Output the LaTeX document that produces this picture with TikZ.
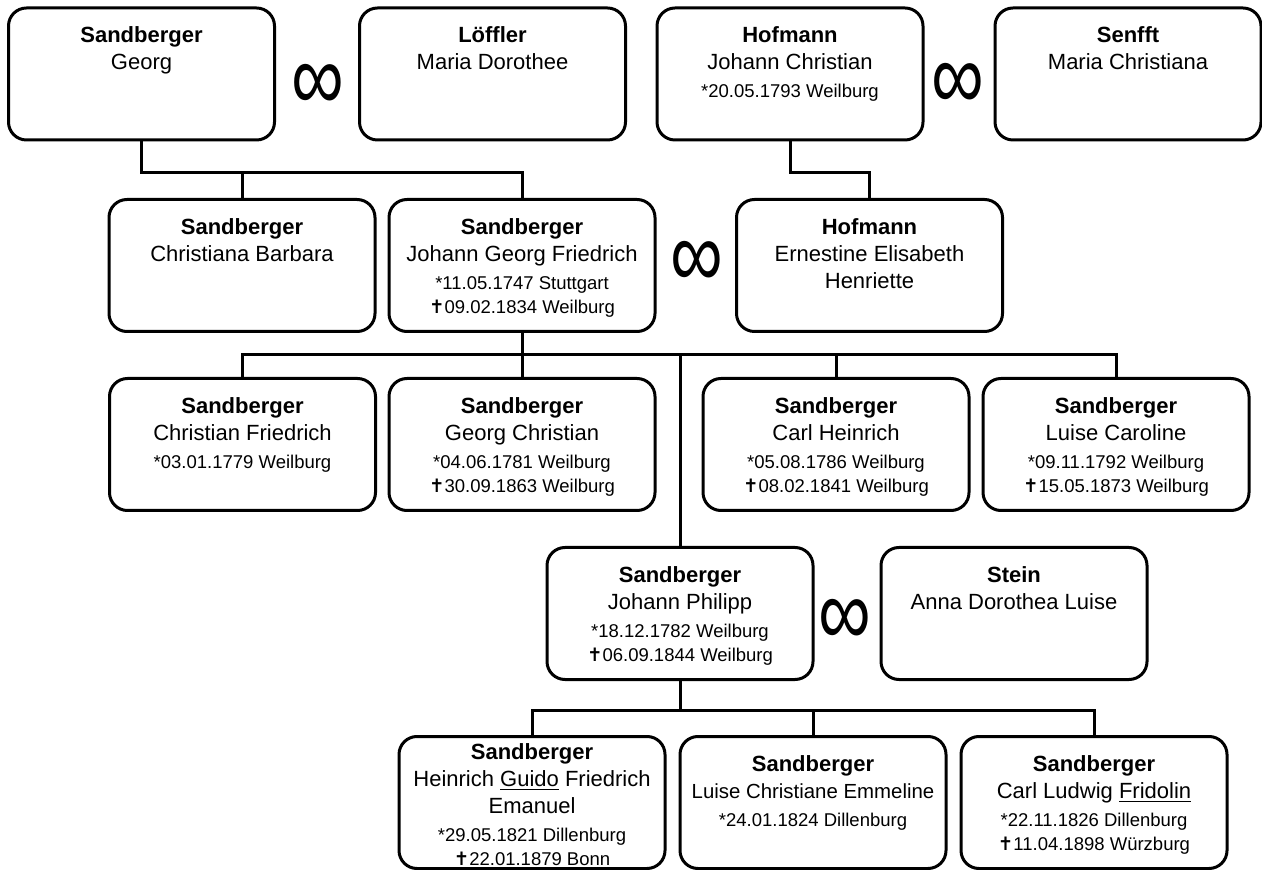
\documentclass[tikz,border=0pt]{standalone}
\usepackage{fontspec}
\setmainfont{Liberation Sans}
\newfontfamily\crossfont{DejaVu Sans}
\usetikzlibrary{calc}

\newcommand{\pers}[3][5.5pt]{\parbox[c][62pt][t]{130pt}{\centering\vspace*{#1}\rule{0pt}{10pt}\textbf{#2}\par #3}}
\newcommand{\born}[1]{\par\vspace{2pt}\fontsize{9.25}{12}\selectfont *#1}
\newcommand{\died}[1]{\par{\crossfont ✝}#1}
\newcommand{\wedsym}{\scalebox{1}[1.3]{∞}}

\tikzset{
  person/.style={draw,line width=1.5pt,rounded corners=9pt,inner sep=0pt,
    minimum width=133pt,minimum height=66pt,font=\fontsize{11}{13.5}\selectfont},
  wed/.style={inner sep=0pt,font=\fontsize{37}{37}\selectfont},
  link/.style={line width=1.5pt}
}

\begin{document}
\begin{tikzpicture}[x=0.5pt,y=-0.5pt]
    \useasboundingbox (0,0) rectangle (1262,870);
    %% grandparents
    \node[person] (georg) at (141.5,74) {\pers{Sandberger}{Georg}};
    \node[person] (loeffler) at (492.5,74) {\pers{Löffler}{Maria Dorothee}};
    \node[person] (hofjc) at (790,74) {\pers{Hofmann}{Johann Christian\born{20.05.1793 Weilburg}}};
    \node[person] (senfft) at (1128,74) {\pers{Senfft}{Maria Christiana}};
    \node[wed] (w1) at (318,87) {\wedsym};
    \node[wed] (w2) at (958,86) {\wedsym};
    %% parents
    \node[person] (christiana) at (242,265.5) {\pers{Sandberger}{Christiana Barbara}};
    \node[person] (jgf) at (522,265.5) {\pers{Sandberger}{Johann Georg Friedrich\born{11.05.1747 Stuttgart}\died{09.02.1834 Weilburg}}};
    \node[person] (ernestine) at (869.5,265.5) {\pers{Hofmann}{Ernestine Elisabeth\par Henriette}};
    \node[wed] (w3) at (697,264) {\wedsym};
    %% children
    \node[person] (cfried) at (242.5,444.5) {\pers{Sandberger}{Christian Friedrich\born{03.01.1779 Weilburg}}};
    \node[person] (gchrist) at (522,444.5) {\pers{Sandberger}{Georg Christian\born{04.06.1781 Weilburg}\died{30.09.1863 Weilburg}}};
    \node[person] (cheinr) at (836,444.5) {\pers{Sandberger}{Carl Heinrich\born{05.08.1786 Weilburg}\died{08.02.1841 Weilburg}}};
    \node[person] (lcaro) at (1116,444.5) {\pers{Sandberger}{Luise Caroline\born{09.11.1792 Weilburg}\died{15.05.1873 Weilburg}}};
    \node[person] (jphil) at (680,613.5) {\pers{Sandberger}{Johann Philipp\born{18.12.1782 Weilburg}\died{06.09.1844 Weilburg}}};
    \node[person] (stein) at (1014,613.5) {\pers{Stein}{Anna Dorothea Luise}};
    \node[wed] (w4) at (845,622) {\wedsym};
    %% grandchildren
    \node[person] (guido) at (532,802.5) {\pers[-0.5pt]{Sandberger}{Heinrich \underline{Guido} Friedrich\par Emanuel\born{29.05.1821 Dillenburg}\died{22.01.1879 Bonn}}};
    \node[person] (lchrist) at (813,802.5) {\pers{Sandberger}{{\fontsize{10.2}{13.5}\selectfont Luise Christiane Emmeline}\born{24.01.1824 Dillenburg}}};
    \node[person] (cludw) at (1094,802.5) {\pers{Sandberger}{Carl Ludwig \underline{Fridolin}\born{22.11.1826 Dillenburg}\died{11.04.1898 Würzburg}}};
    %% lines
    \draw[link] (georg.south) -- ++(0,31) coordinate (g1) -| (jgf.north);
    \draw[link] (christiana.north) -- (christiana.north |- g1);
    \draw[link] (hofjc.south) -- ++(0,31) -| (ernestine.north);
    \draw[link] (jgf.south) -- (gchrist.north);
    \draw[link] (jgf.south) ++(0,22) coordinate (j1);
    \draw[link] (cfried.north) |- (j1) -| (lcaro.north);
    \foreach \k in {cheinr,jphil} {
        \draw[link] (\k.north) -- (\k.north |- j1);
    }
    \draw[link] (jphil.south) -- ++(0,29) coordinate (p1);
    \draw[link] (guido.north) |- (p1) -| (cludw.north);
    \draw[link] (lchrist.north) -- (lchrist.north |- p1);
\end{tikzpicture}
\end{document}
